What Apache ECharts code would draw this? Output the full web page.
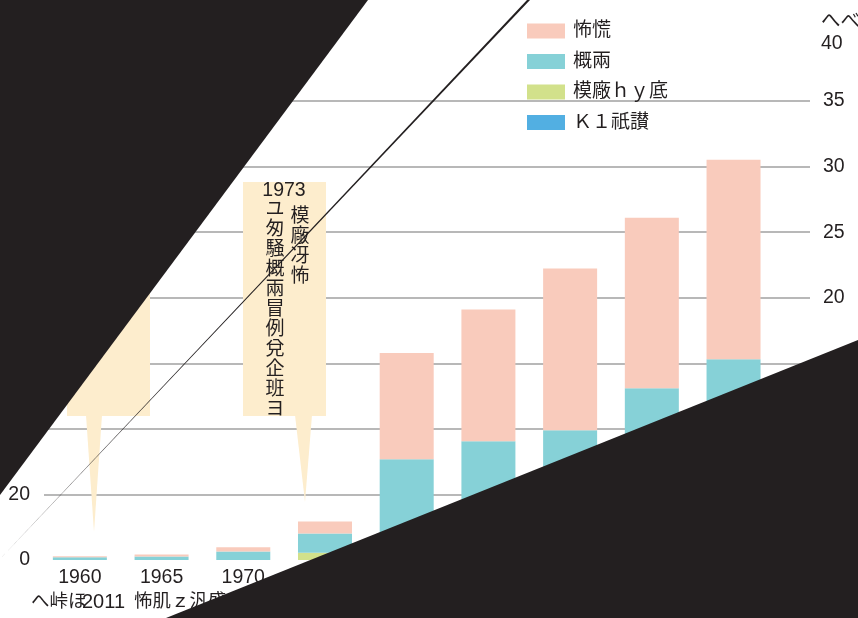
<!DOCTYPE html>
<html>
<head>
<meta charset="utf-8">
<script src="https://cdn.jsdelivr.net/npm/echarts@6/dist/echarts.min.js"></script>
<style>
html,body{margin:0;padding:0;background:#fff;}
#c{width:858px;height:618px;}
</style>
</head>
<body>
<div id="c"></div>
<script>
// ---- data ----
var years = ['1960','1965','1970','1975','1980','1985','1990','1995','2000'];
var seriesNames = ['怖慌','概兩','模廠ｈｙ底','Ｋ１祇讃'];
var pinkVals  = [0.08, 0.15, 0.33, 0.91, 8.09, 10.05, 12.33, 13.01, 15.22];
var tealVals  = [0.21, 0.27, 0.65, 1.47, 6.00, 6.40, 6.40, 7.60, 8.40];
var greenVals = [0, 0, 0, 0.55, 1.40, 2.10, 2.60, 3.20, 3.90];
var blueVals  = [0, 0, 0, 0, 0.29, 0.56, 0.89, 2.29, 3.00];
var leftTicks = {min: 0, max: 140, interval: 20};
var rightTicks = {min: 0, max: 35, interval: 5};
var rightAxisName = 'へべ\n40';
var noteYear = '1973';
var noteCol1 = 'ユ匆騒概兩冒例兌企班ヨ';
var noteCol2 = '模廠冴怖';
var footA = 'へ峠ほ';
var footB = '2011';
var footC = '怖肌ｚ汎盛';

var FONT = "'Liberation Sans', 'Noto Sans CJK JP', sans-serif";
var TXT = '#231f20';
var colors = {pink:'#f9cbbc', teal:'#86d1d7', green:'#d2e18b', blue:'#52afe2'};
var cream = '#fdedcd';
var black = '#231f20';
var NUM = 19.5;

function vert(s){ return s.split('').join('\n'); }

var chart = echarts.init(document.getElementById('c'), null, {renderer:'canvas'});
var option = {
  animation: false,
  textStyle: {fontFamily: FONT},
  legend: {
    orient: 'vertical', left: 522, top: 16.5,
    itemWidth: 38, itemHeight: 15, itemGap: 11.5,
    icon: 'rect',
    data: seriesNames,
    textStyle: {fontSize: 19, color: TXT, lineHeight: 18, fontFamily: FONT, padding: [0,0,0,3]}
  },
  grid: [
    {left: 44, right: 48, top: 101, bottom: 58, outerBoundsMode: 'none', containLabel: false},
    {left: 39, right: 83.6, top: 101, bottom: 58, outerBoundsMode: 'none', containLabel: false}
  ],
  xAxis: [
    {type: 'category', gridIndex: 0, data: years, show: false},
    {type: 'category', gridIndex: 1, data: years,
     axisLine: {show: false}, axisTick: {show: false},
     axisLabel: {fontSize: NUM, color: TXT, margin: 8, fontFamily: FONT}}
  ],
  yAxis: [
    {type: 'value', gridIndex: 0, position: 'left', min: leftTicks.min, max: leftTicks.max, interval: leftTicks.interval,
     axisLine: {show: false}, axisTick: {show: false},
     axisLabel: {fontSize: NUM, color: TXT, margin: 14, fontFamily: FONT},
     splitLine: {show: true, showMinLine: false, lineStyle: {color: '#a0a0a0', width: 1.5}}},
    {type: 'value', gridIndex: 0, position: 'right', min: rightTicks.min, max: rightTicks.max, interval: rightTicks.interval,
     name: rightAxisName, nameLocation: 'end', nameGap: 46,
     nameTextStyle: {fontSize: NUM, color: TXT, align: 'left', lineHeight: 22, padding: [0,0,0,11], fontFamily: FONT},
     axisLine: {show: false}, axisTick: {show: false},
     axisLabel: {fontSize: NUM, color: TXT, margin: 13, fontFamily: FONT},
     splitLine: {show: false}},
    {type: 'value', gridIndex: 1, min: rightTicks.min, max: rightTicks.max, show: false}
  ],
  series: [
    {name: seriesNames[3], type: 'bar', stack: 's', xAxisIndex: 1, yAxisIndex: 2, barWidth: 54, data: blueVals, itemStyle: {color: colors.blue}},
    {name: seriesNames[2], type: 'bar', stack: 's', xAxisIndex: 1, yAxisIndex: 2, barWidth: 54, data: greenVals, itemStyle: {color: colors.green}},
    {name: seriesNames[1], type: 'bar', stack: 's', xAxisIndex: 1, yAxisIndex: 2, barWidth: 54, data: tealVals, itemStyle: {color: colors.teal}},
    {name: seriesNames[0], type: 'bar', stack: 's', xAxisIndex: 1, yAxisIndex: 2, barWidth: 54, data: pinkVals, itemStyle: {color: colors.pink}}
  ],
  graphic: [
    // callouts
    {type: 'rect', z: 10, shape: {x: 67, y: 182, width: 83, height: 234}, style: {fill: cream}},
    {type: 'polygon', z: 10, shape: {points: [[86,415],[102,415],[94,532]]}, style: {fill: cream}},
    {type: 'rect', z: 10, shape: {x: 243, y: 182, width: 83, height: 234}, style: {fill: cream}},
    {type: 'polygon', z: 10, shape: {points: [[295,415],[312,415],[305,502]]}, style: {fill: cream}},
    {type: 'text', z: 11, style: {text: noteYear, x: 284, y: 191, fill: TXT, font: NUM + 'px ' + FONT, align: 'center', verticalAlign: 'middle'}},
    {type: 'text', z: 11, style: {text: vert(noteCol1), x: 275, y: 200, fill: TXT, font: '19px ' + FONT, align: 'center', verticalAlign: 'top', lineHeight: 20}},
    {type: 'text', z: 11, style: {text: vert(noteCol2), x: 300, y: 207, fill: TXT, font: '19px ' + FONT, align: 'center', verticalAlign: 'top', lineHeight: 20}},
    // footer
    {type: 'text', z: 11, style: {text: footA, x: 31, y: 602, fill: TXT, font: '18.5px ' + FONT, align: 'left', verticalAlign: 'middle'}},
    {type: 'text', z: 11, style: {text: footB, x: 82, y: 602, fill: TXT, font: '20px ' + FONT, align: 'left', verticalAlign: 'middle'}},
    {type: 'text', z: 11, style: {text: footC, x: 134, y: 602, fill: TXT, font: '18.5px ' + FONT, align: 'left', verticalAlign: 'middle'}},
    // diagonal thin line
    {type: 'polygon', z: 50, shape: {points: [[-2,561],[527,0],[530,0]]}, style: {fill: black}},
    // black triangles
    {type: 'polygon', z: 100, shape: {points: [[0,0],[368,0],[0,495]]}, style: {fill: black}},
    {type: 'polygon', z: 100, shape: {points: [[858,340],[858,618],[166,618]]}, style: {fill: black}}
  ]
};
chart.setOption(option);
</script>
</body>
</html>
